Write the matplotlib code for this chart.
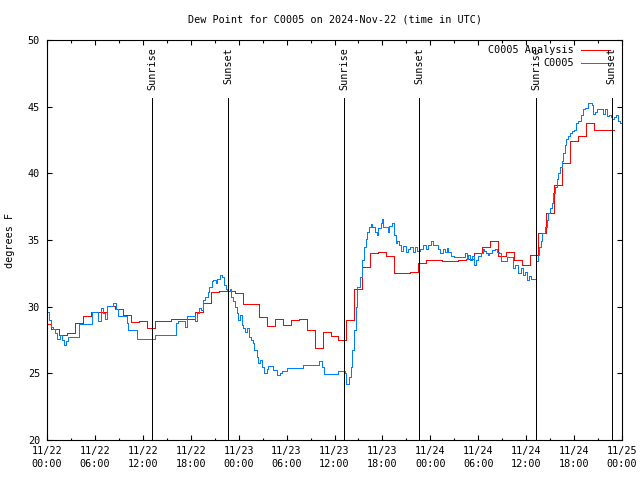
import numpy as np
import matplotlib
matplotlib.use('Agg')
import matplotlib.pyplot as plt

plt.rcParams['font.family'] = 'DejaVu Sans Mono'
plt.rcParams['font.size'] = 7.3
plt.rcParams['lines.antialiased'] = False

titulo = 'Dew Point for C0005 on 2024-Nov-22 (time in UTC)'

# horas desde 2024-11-22 00:00 UTC
# analise horaria
analise_h = np.arange(72)
analise_f = [28.7, 28.3, 27.9, 28.05, 28.75, 29.3, 29.6, 29.6, 30.05, 29.85, 29.4, 28.85,
             28.9, 28.4, 28.9, 28.9, 29.1, 29.1, 29.1, 29.6, 30.3, 31.1, 31.2, 31.2,
             31.0, 30.2, 30.2, 29.2, 28.55, 29.1, 28.6, 29.0, 29.1, 28.25, 26.9, 28.1,
             27.8, 27.5, 29.0, 31.3, 33.0, 34.0, 34.1, 33.8, 32.55, 32.5, 32.6, 33.3,
             33.5, 33.5, 33.4, 33.4, 33.5, 33.55, 34.0, 34.5, 34.9, 33.8, 34.1, 33.5,
             33.1, 33.9, 35.5, 37.0, 39.1, 40.75, 42.4, 42.8, 43.75, 43.25, 43.25, 43.25]

# observacoes da estacao
obs_h = [0.0, 0.2, 0.45, 0.75, 1.0, 1.3, 1.6, 1.85, 2.1, 2.4, 2.6, 3.95, 5.6, 6.4, 6.7,
         7.0, 7.25, 7.55, 8.3, 8.7, 8.9, 10.0, 10.2, 11.25, 12.65, 13.5, 16.2, 16.4,
         17.3, 17.5, 18.5, 18.8, 19.0, 19.3, 19.5, 19.8, 20.1, 20.3, 20.6, 20.8, 21.15,
         21.3, 21.6, 21.9, 22.15, 22.4, 22.6, 22.9, 23.1, 23.3, 23.55, 23.75, 23.95,
         24.15, 24.4, 24.6, 24.8, 25.1, 25.3, 25.5, 25.75, 25.9, 26.25, 26.45, 26.7,
         26.9, 27.15, 27.5, 27.7, 28.35, 28.75, 29.2, 29.4, 30.0, 32.1, 34.0, 34.4,
         34.7, 36.4, 37.3, 37.5, 37.8, 38.05, 38.2, 38.45, 38.65, 38.85, 39.2, 39.5,
         39.7, 39.9, 40.1, 40.3, 40.55, 40.75, 41.05, 41.3, 41.5, 41.8, 41.9, 42.1,
         42.65, 42.8, 43.2, 43.45, 43.65, 43.8, 44.05, 44.3, 44.6, 44.95, 45.25, 45.45,
         45.8, 46.1, 46.35, 46.7, 47.1, 47.45, 47.75, 48.05, 48.3, 48.9, 49.2, 49.55,
         49.85, 50.05, 50.25, 50.55, 50.95, 52.35, 52.55, 52.75, 52.95, 53.2, 53.45,
         53.7, 54.0, 54.3, 54.55, 54.75, 54.95, 55.2, 55.4, 55.7, 56.1, 56.4, 56.6,
         56.85, 57.55, 58.4, 58.6, 59.0, 59.3, 59.55, 59.85, 60.1, 60.35, 60.6, 61.25,
         61.45, 61.65, 61.85, 62.0, 62.35, 62.55, 62.75, 63.0, 63.2, 63.4, 63.6, 63.8,
         64.0, 64.25, 64.45, 64.65, 64.85, 65.05, 65.3, 65.5, 65.7, 66.0, 66.3, 66.55,
         66.85, 67.15, 67.35, 67.7, 68.2, 68.4, 68.6, 68.85, 69.65, 69.85, 70.1, 70.35,
         70.6, 70.8, 71.0, 71.3, 71.5, 71.7, 72.0]
obs_f = [29.6, 29.0, 28.5, 28.3, 28.0, 27.6, 27.9, 27.5, 27.15, 27.4, 27.7, 28.7, 29.6, 28.9, 29.9,
         29.5, 29.1, 30.05, 30.25, 29.8, 29.3, 28.8, 28.25, 27.55, 27.6, 27.9, 28.75, 28.9,
         28.5, 29.3, 28.9, 29.5, 29.9, 29.75, 30.5, 30.7, 31.1, 31.5, 31.9, 32.0, 31.8,
         32.1, 32.4, 32.25, 31.6, 31.3, 31.15, 31.3, 30.75, 30.4, 30.0, 29.5, 29.0,
         29.4, 28.6, 28.4, 28.1, 28.4, 27.7, 27.5, 27.25, 26.75, 26.25, 25.75, 26.0,
         25.5, 25.05, 25.3, 25.55, 25.25, 24.9, 25.05, 25.2, 25.4, 25.65, 25.9, 25.5,
         24.95, 25.2, 25.0, 24.2, 24.75, 25.5, 26.75, 28.25, 30.0, 31.45, 32.25, 33.5,
         34.5, 35.1, 35.6, 36.0, 36.2, 36.0, 35.6, 35.4, 35.9, 36.25, 36.6, 35.95,
         35.6, 36.05, 36.25, 35.4, 34.75, 34.9, 34.6, 34.2, 34.55, 34.1, 34.35, 34.5,
         34.1, 34.5, 34.15, 34.35, 34.6, 34.3, 34.6, 34.9, 34.6, 34.35, 34.05, 34.35,
         34.1, 34.4, 34.1, 33.8, 33.7, 34.0, 33.6, 33.85, 33.5, 33.8, 33.1,
         33.5, 33.8, 34.05, 34.35, 34.2, 34.05, 33.85, 34.05, 34.25, 34.35, 34.1, 34.0,
         33.4, 33.75, 32.9, 33.1, 32.5, 32.9, 32.4, 32.6, 32.0, 32.3, 32.1, 33.4,
         33.9, 34.5, 34.9, 35.5, 36.0, 36.5, 37.0, 37.4, 37.75, 38.5, 39.0, 39.55,
         40.0, 40.45, 40.9, 41.5, 42.1, 42.6, 42.8, 43.05, 43.2, 43.25, 43.75, 43.9,
         44.4, 44.8, 44.9, 45.3, 45.1, 44.45, 44.6, 44.8, 44.45, 44.8, 44.3, 44.35,
         44.25, 44.1, 44.25, 44.35, 43.9, 43.75, 43.75]

nascer = [13.15, 37.2, 61.22]
por = [22.65, 46.6, 70.7]

dias = ['11/22'] * 4 + ['11/23'] * 4 + ['11/24'] * 4 + ['11/25']
horas = ['00:00', '06:00', '12:00', '18:00'] * 3 + ['00:00']

LW = 0.72  # 1 pixel a 100 dpi

fig = plt.figure(figsize=(6.4, 4.8), dpi=100)
ax = fig.add_axes([47 / 640, 40 / 480, 575 / 640, 400 / 480])

ax.plot(analise_h, analise_f, color='#ff0000', lw=LW, drawstyle='steps-mid')
ax.plot(obs_h, obs_f, color='#0080ff', lw=LW, drawstyle='steps-post')

# nascer e por do sol
for t in nascer:
    ax.axvline(t, ymax=0.855, color='black', lw=LW)
    ax.text(t, 49.45, 'Sunrise', rotation=90, ha='center', va='top')
for t in por:
    ax.axvline(t, ymax=0.855, color='black', lw=LW)
    ax.text(t, 49.45, 'Sunset', rotation=90, ha='center', va='top')

ax.set_xlim(0, 72)
ax.set_ylim(20, 50)
ax.set_yticks(np.arange(20, 51, 5))
ax.set_xticks(np.arange(0, 73, 6))
ax.set_xticklabels([f'{d}\n{h}' for d, h in zip(dias, horas)], linespacing=1.45)
ax.set_xticks(np.arange(0, 73, 3), minor=True)
ax.tick_params(which='both', direction='in', top=True, right=True, width=0.8)
ax.tick_params(which='major', length=3.3)
ax.tick_params(which='minor', length=1.8)
ax.tick_params(axis='x', pad=4)
ax.tick_params(axis='y', pad=5)
for s in ax.spines.values():
    s.set_linewidth(0.8)

# legenda no estilo gnuplot
ax.text(0.9165, 0.975, 'C0005 Analysis', transform=ax.transAxes, ha='right', va='center')
ax.plot([0.929, 0.979], [0.975, 0.975], transform=ax.transAxes, color='#ff0000', lw=LW)
ax.text(0.9165, 0.943, 'C0005', transform=ax.transAxes, ha='right', va='center')
ax.plot([0.929, 0.979], [0.943, 0.943], transform=ax.transAxes, color='#0080ff', lw=LW)

fig.text(334.5 / 640, 1 - 19 / 480, titulo, ha='center', va='center')
fig.text(10 / 640, 0.5, 'degrees F', rotation=90, ha='center', va='center')

fig.savefig('out.png', dpi=100)
